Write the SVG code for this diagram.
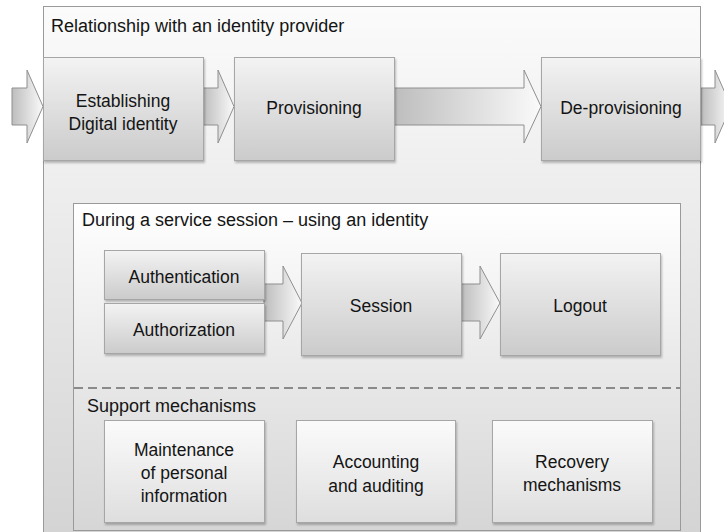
<svg xmlns="http://www.w3.org/2000/svg" width="724" height="532" viewBox="0 0 724 532">
  <defs>
    <linearGradient id="gOuter" x1="0" y1="0" x2="0" y2="1">
      <stop offset="0" stop-color="#fbfbfb"/>
      <stop offset="1" stop-color="#d3d3d3"/>
    </linearGradient>
    <linearGradient id="gInner" x1="0" y1="0" x2="0" y2="1">
      <stop offset="0" stop-color="#ffffff"/>
      <stop offset="0.45" stop-color="#ebebeb"/>
      <stop offset="1" stop-color="#d6d6d6"/>
    </linearGradient>
    <linearGradient id="gBox" x1="0" y1="0" x2="0" y2="1">
      <stop offset="0" stop-color="#f3f3f3"/>
      <stop offset="1" stop-color="#cbcbcb"/>
    </linearGradient>
    <linearGradient id="gSupport" x1="0" y1="0" x2="0" y2="1">
      <stop offset="0" stop-color="#fbfbfb"/>
      <stop offset="1" stop-color="#dedede"/>
    </linearGradient>
    <linearGradient id="gArrow" x1="0" y1="0" x2="1" y2="0">
      <stop offset="0" stop-color="#bdbdbd"/>
      <stop offset="1" stop-color="#fafafa"/>
    </linearGradient>
    <filter id="shadow" x="-5%" y="-5%" width="115%" height="120%">
      <feDropShadow dx="1" dy="2" stdDeviation="1.2" flood-color="#000" flood-opacity="0.25"/>
    </filter>
  </defs>
  <style>
    text { font-family: "Liberation Sans", Arial, sans-serif; font-size: 17.5px; fill: #141414; }
    .title { font-size: 18px; }
    .c { text-anchor: middle; }
    .frame { stroke: #9a9a9a; stroke-width: 1; }
    .box { fill: url(#gBox); stroke: #a6a6a6; stroke-width: 1; filter: url(#shadow); }
    .sbox { fill: url(#gSupport); stroke: #a6a6a6; stroke-width: 1; filter: url(#shadow); }
    .arrow { fill: url(#gArrow); stroke: #8f8f8f; stroke-width: 1; stroke-linejoin: miter; }
  </style>

  <!-- outer container -->
  <g id="relationship">
    <rect class="frame" x="43.5" y="6.5" width="657" height="540" fill="url(#gOuter)"/>
    <text class="title" x="51" y="32">Relationship with an identity provider</text>
  </g>

  <!-- service session container -->
  <g id="service-session">
    <rect class="frame" x="73.5" y="203.5" width="607" height="327" fill="url(#gInner)"/>
    <text class="title" x="82" y="226">During a service session – using an identity</text>
    <line x1="74" y1="388" x2="680" y2="388" stroke="#8a8a8a" stroke-width="2" stroke-dasharray="9,5"/>
    <text class="title" x="87" y="412">Support mechanisms</text>
  </g>

  <!-- block arrows -->
  <g id="connectors">
    <path class="arrow" d="M12,88 H27 V70 L43,106.5 L27,143 V125 H12 Z"/>
    <path class="arrow" d="M203,88 H218 V70 L234,106.5 L218,143 V125 H203 Z"/>
    <path class="arrow" d="M394,88 H524 V70 L541,106.5 L524,143 V125 H394 Z"/>
    <path class="arrow" d="M701,88 H715 V70 L731,106.5 L715,143 V125 H701 Z"/>
    <path class="arrow" d="M264,284 H283 V266 L302,303 L283,339 V321 H264 Z"/>
    <path class="arrow" d="M461,284 H480 V266 L500,303 L480,339 V321 H461 Z"/>
  </g>

  <g id="establishing">
    <rect class="box" x="43.5" y="57.5" width="160" height="103"/>
    <text class="c" x="123" y="106.5">Establishing</text>
    <text class="c" x="123" y="130">Digital identity</text>
  </g>
  <g id="provisioning">
    <rect class="box" x="234.5" y="57.5" width="160" height="103"/>
    <text class="c" x="314" y="114">Provisioning</text>
  </g>
  <g id="de-provisioning">
    <rect class="box" x="541.5" y="57.5" width="159" height="103"/>
    <text class="c" x="621" y="114">De-provisioning</text>
  </g>

  <g id="authentication">
    <rect class="box" x="104.5" y="250.5" width="160" height="49"/>
    <text class="c" x="184" y="283">Authentication</text>
  </g>
  <g id="authorization">
    <rect class="box" x="104.5" y="303.5" width="160" height="50"/>
    <text class="c" x="184" y="336">Authorization</text>
  </g>
  <g id="session">
    <rect class="box" x="301.5" y="253.5" width="160" height="102"/>
    <text class="c" x="381" y="312">Session</text>
  </g>
  <g id="logout">
    <rect class="box" x="500.5" y="253.5" width="160" height="102"/>
    <text class="c" x="580" y="312">Logout</text>
  </g>

  <g id="maintenance">
    <rect class="sbox" x="104.5" y="420.5" width="160" height="102"/>
    <text class="c" x="184" y="456">Maintenance</text>
    <text class="c" x="184" y="479">of personal</text>
    <text class="c" x="184" y="502">information</text>
  </g>
  <g id="accounting">
    <rect class="sbox" x="296.5" y="420.5" width="159" height="102"/>
    <text class="c" x="376" y="468">Accounting</text>
    <text class="c" x="376" y="492">and auditing</text>
  </g>
  <g id="recovery">
    <rect class="sbox" x="492.5" y="420.5" width="160" height="102"/>
    <text class="c" x="572" y="468">Recovery</text>
    <text class="c" x="572" y="491">mechanisms</text>
  </g>
</svg>
